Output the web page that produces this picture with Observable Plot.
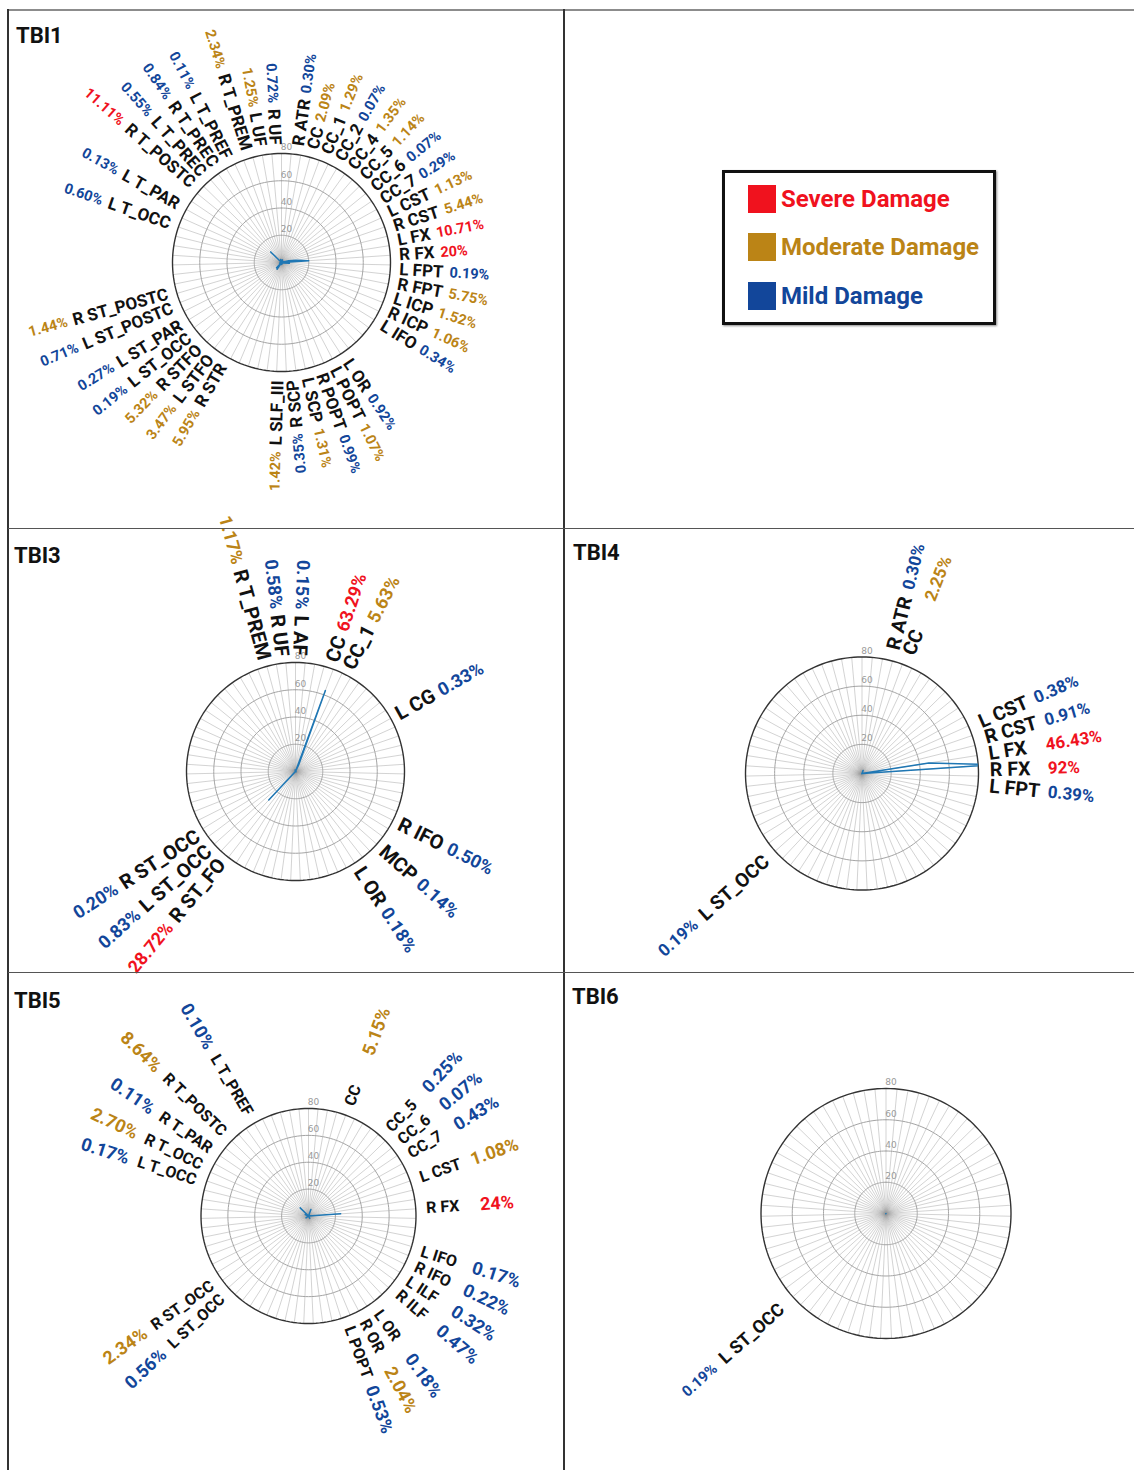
<!DOCTYPE html>
<html>
<head>
<meta charset="utf-8">
<script src="https://cdn.jsdelivr.net/npm/d3@7"></script>
<script src="https://cdn.jsdelivr.net/npm/@observablehq/plot@0.6"></script>
<style>
  html, body { margin: 0; padding: 0; background: #fff; }
  #page { position: relative; width: 1134px; height: 1470px; overflow: hidden; background: #fff; }
  .panel { position: absolute; }
  .panel svg { overflow: visible; display: block; }
  .title { position: absolute; font-family: Roboto, sans-serif; font-weight: 700; font-size: 22px; line-height: 1; color: #111; white-space: nowrap; }
  .rule { position: absolute; }
  #legend { position: absolute; left: 722px; top: 170px; width: 268px; height: 149px; border: 3px solid #111; box-shadow: 1px 1px 2px rgba(0,0,0,0.45); background: #fff; }
  .lg-row { position: absolute; left: 23px; height: 28px; display: flex; align-items: center; font-family: Roboto, sans-serif; font-weight: 700; font-size: 24px; white-space: nowrap; }
  .lg-sw { width: 28px; height: 28px; margin-right: 5px; flex: none; }
</style>
</head>
<body>
<div id="page"></div>
<script>
// ---------------- DATA ----------------
const tracts = ["L AF","R AF","L ATR","R ATR","CC","CC_1","CC_2","CC_3","CC_4","CC_5","CC_6","CC_7",
  "L CG","R CG","L CST","R CST","L FX","R FX","L FPT","R FPT","L ICP","R ICP","L IFO","R IFO",
  "L ILF","R ILF","MCP","L MLF","R MLF","L OR","R OR","L POPT","R POPT","L SCP","R SCP",
  "L SLF_III","R SLF_III","L SLF_II","R SLF_II","L SLF_I","R SLF_I","L STR","R STR",
  "L ST_FO","R ST_FO","L ST_OCC","R ST_OCC","L ST_PAR","R ST_PAR","L ST_POSTC","R ST_POSTC",
  "L ST_PREC","R ST_PREC","L ST_PREF","R ST_PREF","L ST_PREM","R ST_PREM","L T_OCC","R T_OCC",
  "L T_PAR","R T_PAR","L T_POSTC","R T_POSTC","L T_PREC","R T_PREC","L T_PREF","R T_PREF",
  "L T_PREM","R T_PREM","L UF","R UF"];

const ringTicks = [20, 40, 60, 80];

const tbi1Tracts = ["R ATR","CC","CC_1","CC_2","CC_4","CC_5","CC_6","CC_7","L CST","R CST","L FX","R FX",
  "L FPT","R FPT","L ICP","R ICP","L IFO","L OR","L POPT","R POPT","L SCP","R SCP","L SLF_III",
  "R STR","L STFO","R STFO","L ST_OCC","L ST_PAR","L ST_POSTC","R ST_POSTC","L T_OCC","L T_PAR",
  "R T_POSTC","L T_PREC","R T_PREC","L T_PREF","R T_PREM","L UF","R UF"];
const tbi1Values = [0.30,2.09,1.29,0.07,1.35,1.14,0.07,0.29,1.13,5.44,10.71,20,
  0.19,5.75,1.52,1.06,0.34,0.92,1.07,0.99,1.31,0.35,1.42,
  5.95,3.47,5.32,0.19,0.27,0.71,1.44,0.60,0.13,
  11.11,0.55,0.84,0.11,2.34,1.25,0.72];

const tbi3Tracts = ["R T_PREM","R UF","L AF","CC","CC_1","L CG","R IFO","MCP","L OR","R ST_FO","L ST_OCC","R ST_OCC"];
const tbi3Values = [1.17,0.58,0.15,63.29,5.63,0.33,0.50,0.14,0.18,28.72,0.83,0.20];

const tbi4Tracts = ["R ATR","CC","L CST","R CST","L FX","R FX","L FPT","L ST_OCC"];
const tbi4Values = [0.30,2.25,0.38,0.91,46.43,92,0.39,0.19];

const tbi5Tracts = ["CC","CC_5","CC_6","CC_7","L CST","R FX","L IFO","R IFO","L ILF","R ILF","L OR","R OR",
  "L POPT","L ST_OCC","R ST_OCC","L T_OCC","R T_OCC","R T_PAR","R T_POSTC","L T_PREF"];
const tbi5Values = [5.15,0.25,0.07,0.43,1.08,24,0.17,0.22,0.32,0.47,0.18,2.04,
  0.53,0.56,2.34,0.17,2.70,0.11,8.64,0.10];

const tbi6Tracts = ["L ST_OCC"];
const tbi6Values = [0.19];

const severityLabels = ["Severe Damage","Moderate Damage","Mild Damage"];
const severityThresholds = [1, 10];          // <1 mild, 1–10 moderate, >=10 severe
const severityColors = ["#12469a","#bb8416","#f0121e"]; // mild, moderate, severe

const panels = [
  {id:"TBI1", names:tbi1Tracts, values:tbi1Values},
  {id:"TBI3", names:tbi3Tracts, values:tbi3Values},
  {id:"TBI4", names:tbi4Tracts, values:tbi4Values},
  {id:"TBI5", names:tbi5Tracts, values:tbi5Values},
  {id:"TBI6", names:tbi6Tracts, values:tbi6Values}
];

// ---------------- LAYOUT ----------------
const layout = {
  TBI1:{left:8,top:10,w:556,h:518,cx:273,cy:252,R:109,rName:118,nameSize:17,pctSize:14.5,gap:6,rCol:0,sep:7.1,tx:16,tb:43.5},
  TBI3:{left:8,top:528,w:556,h:444,cx:287,cy:243,R:109,rName:116,nameSize:20,pctSize:18,gap:6,rCol:0,sep:8.8,tx:14,tb:563},
  TBI4:{left:564,top:528,w:570,h:444,cx:297.5,cy:245,R:116.5,rName:128,nameSize:19.5,pctSize:17,gap:8,rCol:186,sep:7.3,tx:573,tb:560},
  TBI5:{left:8,top:972,w:556,h:498,cx:300,cy:243.5,R:107.5,rName:118,nameSize:16,pctSize:18,gap:9,rCol:172,sep:7.8,tx:14,tb:1008},
  TBI6:{left:564,top:972,w:570,h:498,cx:321.5,cy:241,R:125,rName:140,nameSize:18,pctSize:15,gap:9,rCol:0,sep:8,tx:572,tb:1004}
};

const page = document.getElementById("page");
const rad = a => a * Math.PI / 180;
const fmt = v => (Number.isInteger(v) ? String(v) : v.toFixed(2)) + "%";
const ctx = document.createElement("canvas").getContext("2d");
function textWidth(t, size) { ctx.font = `bold ${size}px Roboto`; return ctx.measureText(t).width; }
const canon = n => n.replace("STFO", "ST_FO");

function spread(labels, sep) {
  labels.sort((a, b) => a.a - b.a);
  for (let it = 0; it < 800; it++) {
    let moved = false;
    for (let i = 1; i < labels.length; i++) {
      const d = labels[i].a - labels[i - 1].a;
      if (d < sep - 1e-6) { const s = (sep - d) / 2; labels[i - 1].a -= s; labels[i].a += s; moved = true; }
    }
    if (!moved) break;
  }
}

function drawPanel(p) {
  const L = layout[p.id];
  const k = 80 / L.R;
  const step = 360 / tracts.length;
  const valueOf = new Map(p.names.map((n, i) => [canon(n), p.values[i]]));
  const series = tracts.map((t, i) => ({t, v: valueOf.get(t) ?? 0, a: i * step}));
  const spokes = tracts.map((t, i) => ({t, a: i * step}));
  const ringPts = ringTicks.flatMap(r => d3.range(0, 361, 2).map(a => ({r, a})));

  const labels = p.names.map((n, i) => {
    let a = tracts.indexOf(canon(n)) * step;
    if (a >= 270) a -= 360;
    return {name: n, value: p.values[i], pct: fmt(p.values[i]), a};
  });
  spread(labels, L.sep);
  for (const d of labels) {
    d.left = d.a >= 170 || d.a <= 3;
    d.rot = d.left ? d.a - 270 : d.a - 90;
    d.rn = L.rName * k;
    d.rp = Math.max(L.rName + textWidth(d.name, L.nameSize) + L.gap, L.rCol) * k;
  }
  const px = (r) => d => d[r] * Math.sin(rad(d.a));
  const py = (r) => d => d[r] * Math.cos(rad(d.a));
  const txt = {fontFamily: "Roboto", fontWeight: "bold", rotate: "rot"};

  const svg = Plot.plot({
    width: L.w, height: L.h,
    marginLeft: L.cx - L.R, marginRight: L.w - L.cx - L.R,
    marginTop: L.cy - L.R, marginBottom: L.h - L.cy - L.R,
    x: {domain: [-80, 80], axis: null},
    y: {domain: [-80, 80], axis: null},
    color: {type: "threshold", domain: severityThresholds, range: severityColors},
    style: {overflow: "visible", background: "transparent"},
    marks: [
      Plot.link(spokes, {x1: () => 0, y1: () => 0,
        x2: d => 80 * Math.sin(rad(d.a)), y2: d => 80 * Math.cos(rad(d.a)),
        stroke: "#9c9c9c", strokeOpacity: 0.6, strokeWidth: 0.75}),
      Plot.line(ringPts.filter(d => d.r < 80), {x: d => d.r * Math.sin(rad(d.a)), y: d => d.r * Math.cos(rad(d.a)),
        z: "r", stroke: "#a4a4a4", strokeWidth: 1}),
      Plot.line(ringPts.filter(d => d.r === 80), {x: d => d.r * Math.sin(rad(d.a)), y: d => d.r * Math.cos(rad(d.a)),
        stroke: "#333", strokeWidth: 1.4}),
      Plot.text(ringTicks, {x: () => 0, y: d => d, text: d => String(d), dx: 5, dy: -6,
        fill: "#9a9a9a", fontSize: 9, fontFamily: "DejaVu Sans"}),
      Plot.line(series, {x: d => d.v * Math.sin(rad(d.a)), y: d => d.v * Math.cos(rad(d.a)),
        stroke: "#1f77b4", strokeWidth: 1.5, clip: true}),
      Plot.text(labels.filter(d => !d.left), {...txt, x: px("rn"), y: py("rn"), text: "name",
        textAnchor: "start", fill: "#111", fontSize: L.nameSize}),
      Plot.text(labels.filter(d => d.left), {...txt, x: px("rn"), y: py("rn"), text: "name",
        textAnchor: "end", fill: "#111", fontSize: L.nameSize}),
      Plot.text(labels.filter(d => !d.left), {...txt, x: px("rp"), y: py("rp"), text: "pct",
        textAnchor: "start", fill: "value", fontSize: L.pctSize}),
      Plot.text(labels.filter(d => d.left), {...txt, x: px("rp"), y: py("rp"), text: "pct",
        textAnchor: "end", fill: "value", fontSize: L.pctSize})
    ]
  });
  const wrap = document.createElement("div");
  wrap.className = "panel";
  wrap.style.left = L.left + "px"; wrap.style.top = L.top + "px";
  wrap.style.width = L.w + "px"; wrap.style.height = L.h + "px";
  wrap.append(svg);
  page.append(wrap);

  const title = document.createElement("div");
  title.className = "title";
  title.textContent = p.id;
  title.style.left = L.tx + "px";
  title.style.top = (L.tb - 18.5) + "px";
  page.append(title);
}

panels.forEach(drawPanel);

// grid rules
const rules = [
  {l:8, t:9, w:1126, h:1.5, c:"#8c8c8c"},
  {l:7, t:9, w:2, h:1461, c:"#333"},
  {l:563, t:9, w:2, h:1461, c:"#333"},
  {l:8, t:527.5, w:1126, h:1.5, c:"#555"},
  {l:8, t:971.5, w:1126, h:1.5, c:"#555"}
];
for (const r of rules) {
  const d = document.createElement("div");
  d.className = "rule";
  Object.assign(d.style, {left: r.l + "px", top: r.t + "px", width: r.w + "px", height: r.h + "px", background: r.c});
  page.append(d);
}

// legend
const legend = document.createElement("div");
legend.id = "legend";
const legendColors = [severityColors[2], severityColors[1], severityColors[0]];
severityLabels.forEach((lab, i) => {
  const row = document.createElement("div");
  row.className = "lg-row";
  row.style.top = [12, 60, 109][i] + "px";
  row.style.color = legendColors[i];
  const sw = document.createElement("div");
  sw.className = "lg-sw";
  sw.style.background = legendColors[i];
  row.append(sw);
  row.append(document.createTextNode(lab));
  legend.append(row);
});
page.append(legend);
</script>
</body>
</html>
